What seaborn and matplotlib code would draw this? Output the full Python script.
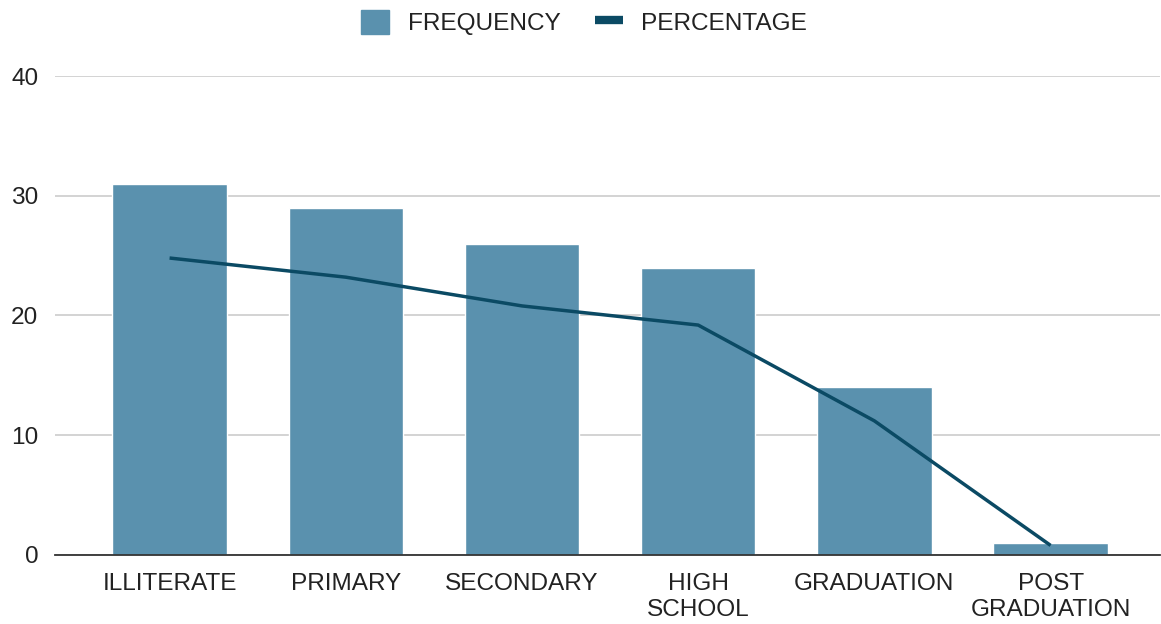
import matplotlib
matplotlib.use("Agg")
import matplotlib.pyplot as plt
import seaborn as sns
import pandas as pd
from matplotlib.patches import Patch
from matplotlib.lines import Line2D

categories = ["ILLITERATE", "PRIMARY", "SECONDARY", "HIGH\nSCHOOL", "GRADUATION", "POST\nGRADUATION"]
frequency = [31, 29, 26, 24, 14, 1]
percentage = [24.8, 23.2, 20.8, 19.2, 11.2, 0.8]
y_ticks = [0, 10, 20, 30, 40]

sns.set_theme(style="white")
plt.rcParams['font.family'] = ['Liberation Sans', 'DejaVu Sans']

bar_color = "#5a91ae"
line_color = "#0b4a64"
fs = 17.6

df = pd.DataFrame({"cat": categories, "freq": frequency, "pct": percentage})

fig = plt.figure(figsize=(11.61, 6.24), dpi=100)
ax = fig.add_axes([0.0474, 0.1106, 0.9516, 0.7676])

sns.barplot(data=df, x="cat", y="freq", color=bar_color, width=0.65, saturation=1, ax=ax, zorder=2)
ax.plot(range(len(categories)), percentage, color=line_color, linewidth=2.5, zorder=3, solid_capstyle="butt")

ax.set_xlim(-0.65, 5.62)
ax.set_ylim(0, 40)
ax.set_yticks(y_ticks)
ax.yaxis.grid(True, color="#cccccc", linewidth=1.2, zorder=0)
ax.set_axisbelow(True)
for s in ["top", "right", "left"]:
    ax.spines[s].set_visible(False)
ax.spines["bottom"].set_color("#333333")
ax.spines["bottom"].set_linewidth(1.3)
ax.spines["bottom"].set_zorder(4)
ax.set_xlabel("")
ax.set_ylabel("")
ax.tick_params(axis="both", length=0, labelsize=fs, colors="#222222")
ax.tick_params(axis="x", pad=13)
ax.tick_params(axis="y", pad=12)
for lbl in ax.get_xticklabels():
    lbl.set_linespacing(1.25)
    lbl.set_ha("center")

handles = [Patch(facecolor=bar_color, edgecolor=bar_color),
           Line2D([0], [0], color=line_color, linewidth=6, solid_capstyle="butt")]
fig.legend(handles, ["FREQUENCY", "PERCENTAGE"], loc="upper center", bbox_to_anchor=(0.503, 1.02),
           ncol=2, frameon=False, fontsize=fs, handlelength=1.15, handleheight=1.15,
           columnspacing=1.4, handletextpad=0.75, labelcolor="#222222")

fig.savefig("out.png", dpi=100)
